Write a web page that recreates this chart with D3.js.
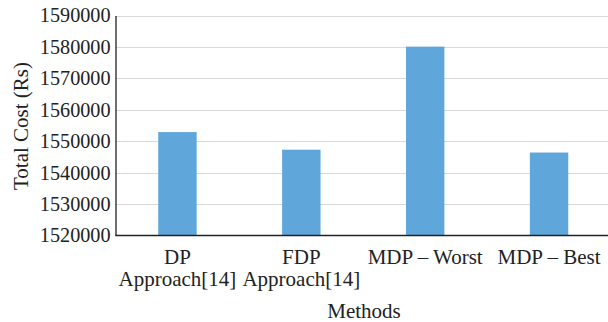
<!DOCTYPE html>
<html><head><meta charset="utf-8">
<script src="https://cdn.jsdelivr.net/npm/d3@7"></script>
<style>body{margin:0;background:#fff}svg{display:block}</style>
</head><body>
<svg id="c" width="608" height="322"></svg>
<script>
const categories = ["DP\nApproach[14]", "FDP\nApproach[14]", "MDP – Worst", "MDP – Best"];
const values = [1552900, 1547300, 1580100, 1546400];
const yTicks = [1520000, 1530000, 1540000, 1550000, 1560000, 1570000, 1580000, 1590000];
const yTitle = "Total Cost (Rs)";
const xTitle = "Methods";

const svg = d3.select("#c");
const font = "'Liberation Serif', 'DejaVu Serif', serif";
const m = {left: 115.5, right: 611, top: 15.5, bottom: 235.5};
const x = d3.scaleBand().domain(categories).range([m.left, m.right]).paddingInner(0.69).paddingOuter(0.345);
const y = d3.scaleLinear().domain([1520000, 1590000]).range([m.bottom, m.top]);

// gridlines
svg.append("g").selectAll("line").data(yTicks.slice(1)).join("line")
  .attr("x1", m.left).attr("x2", 608)
  .attr("y1", d => Math.round(y(d)) + 0.5).attr("y2", d => Math.round(y(d)) + 0.5)
  .attr("stroke", "#d9d9d9").attr("stroke-width", 1);

// bars
svg.append("g").selectAll("rect").data(values).join("rect")
  .attr("x", (d, i) => x(categories[i]))
  .attr("width", x.bandwidth())
  .attr("y", d => y(d))
  .attr("height", d => y(1520000) - y(d))
  .attr("fill", "#5fa6db");

// y axis
const yAxis = svg.append("g").attr("transform", `translate(${m.left},0)`)
  .call(d3.axisLeft(y).tickValues(yTicks).tickSize(0).tickPadding(5).tickFormat(d3.format("d")));
yAxis.select(".domain").attr("stroke", "#222").attr("stroke-width", 1.3);
yAxis.selectAll("text").attr("font-family", font).attr("font-size", 20.2).attr("fill", "#222");

// x axis
const xAxis = svg.append("g").attr("transform", `translate(0,${m.bottom})`)
  .call(d3.axisBottom(x).tickSize(0).tickPadding(0));
xAxis.select(".domain").attr("d", `M${m.left},0H608`).attr("stroke", "#222").attr("stroke-width", 1.3);
xAxis.selectAll(".tick text").each(function(d) {
  const t = d3.select(this);
  t.text(null).attr("y", 0).attr("dy", null)
    .attr("font-family", font).attr("font-size", 21).attr("fill", "#222");
  d.split("\n").forEach((line, i) => {
    t.append("tspan").attr("x", 0).attr("y", 28 + i * 22).text(line);
  });
});

// titles
svg.append("text").attr("x", 364).attr("y", 318).attr("text-anchor", "middle")
  .attr("font-family", font).attr("font-size", 21).attr("fill", "#222").text(xTitle);
svg.append("text").attr("transform", "translate(28,126) rotate(-90)").attr("text-anchor", "middle")
  .attr("font-family", font).attr("font-size", 21).attr("fill", "#222").text(yTitle);
</script>
</body></html>
